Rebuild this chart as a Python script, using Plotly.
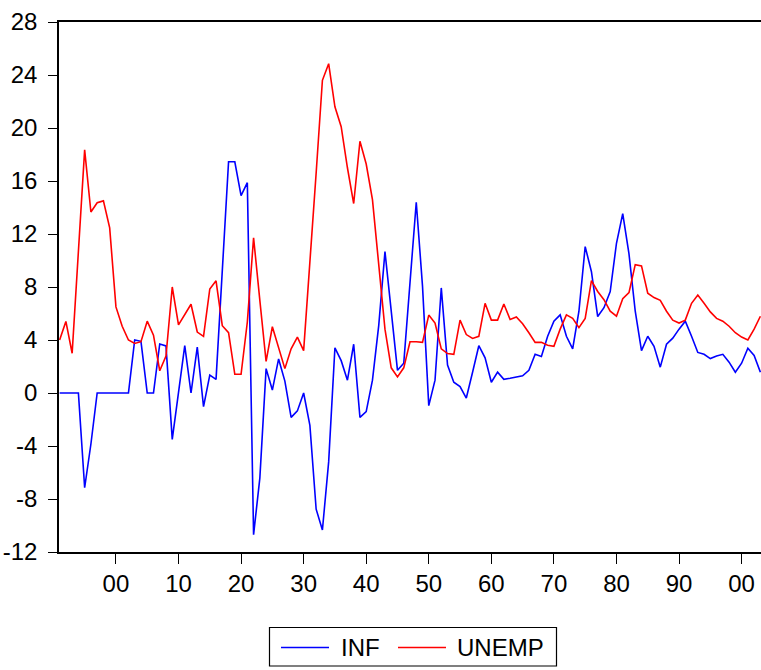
import plotly.graph_objects as go

years = list(range(1891, 2004))

inf = [
    0, 0, 0, 0, -7.15, -3.85, 0, 0, 0, 0,            # 1891-1900
    0, 0, 4.0, 3.9, 0, 0, 3.7, 3.55, -3.5, 0.05,     # 1901-1910
    3.57, 0, 3.47, -1.03, 1.35, 1.03, 9.2, 17.45, 17.45, 14.9,  # 1911-1920
    15.87, -10.7, -6.42, 1.84, 0.22, 2.57, 0.9, -1.84, -1.35, 0,  # 1921-1930
    -2.44, -8.77, -10.34, -5.2, 3.41, 2.44, 0.97, 3.68, -1.84, -1.41,  # 1931-1940
    0.97, 5.09, 10.67, 6.44, 1.71, 2.25, 8.6, 14.4, 8.07, -0.95,  # 1941-1950
    0.97, 7.93, 2.11, 0.81, 0.49, -0.38, 1.57, 3.57, 2.65, 0.81,  # 1951-1960
    1.57, 1.03, 1.11, 1.19, 1.3, 1.71, 2.92, 2.76, 4.28, 5.42,   # 1961-1970
    5.9, 4.28, 3.33, 6.17, 11.05, 9.15, 5.77, 6.44, 7.66, 11.3,  # 1971-1980
    13.54, 10.5, 6.17, 3.2, 4.28, 3.52, 1.95, 3.68, 4.14, 4.82,  # 1981-1990
    5.42, 4.28, 3.06, 2.92, 2.6, 2.79, 2.92, 2.33, 1.57, 2.25,   # 1991-2000
    3.38, 2.84, 1.57,                                            # 2001-2003
]

unemp = [
    4.0, 5.4, 3.0, 10.7, 18.35, 13.66, 14.36, 14.5, 12.46, 6.5,   # 1891-1900
    5.04, 4.0, 3.74, 3.87, 5.42, 4.36, 1.68, 2.79, 8.0, 5.14,     # 1901-1910
    5.96, 6.7, 4.6, 4.28, 7.85, 8.47, 5.08, 4.55, 1.41, 1.41,     # 1911-1920
    5.36, 11.72, 6.99, 2.38, 5.0, 3.33, 1.84, 3.33, 4.22, 3.2,    # 1921-1930
    9.69, 16.6, 23.6, 24.85, 21.6, 20.1, 17.0, 14.3, 19.0, 17.28, # 1931-1940
    14.6, 9.42, 4.82, 1.9, 1.22, 1.9, 3.87, 3.87, 3.82, 5.88,     # 1941-1950
    5.28, 3.33, 2.98, 2.92, 5.5, 4.41, 4.12, 4.28, 6.77, 5.5,     # 1951-1960
    5.5, 6.72, 5.55, 5.74, 5.23, 4.55, 3.82, 3.82, 3.6, 3.52,     # 1961-1970
    4.82, 5.9, 5.63, 4.93, 5.63, 8.48, 7.66, 7.04, 6.17, 5.8,     # 1971-1980
    7.12, 7.58, 9.69, 9.59, 7.53, 7.2, 6.99, 6.17, 5.5, 5.28,     # 1981-1990
    5.5, 6.77, 7.39, 6.77, 6.12, 5.63, 5.42, 5.04, 4.55, 4.22,    # 1991-2000
    4.0, 4.82, 5.79,                                              # 2001-2003
]

x_tick_vals = [1900, 1910, 1920, 1930, 1940, 1950, 1960, 1970, 1980, 1990, 2000]
x_tick_text = ["00", "10", "20", "30", "40", "50", "60", "70", "80", "90", "00"]
y_tick_vals = [-12, -8, -4, 0, 4, 8, 12, 16, 20, 24, 28]
y_tick_text = ["-12", "-8", "-4", "0", "4", "8", "12", "16", "20", "24", "28"]
series_names = ["INF", "UNEMP"]
series_colors = ["#0000FF", "#FF0000"]

W, H = 761, 670
ML, MR, MT, MB = 59, 0, 22, 118
PW, PH = W - ML - MR, H - MT - MB

def px_x(p):
    return (p - ML) / PW

def px_y(p):
    return (H - MB - p) / PH

FONT = "Liberation Sans, Arial, Helvetica, sans-serif"

fig = go.Figure()
for name, vals, col in zip(series_names, [inf, unemp], series_colors):
    fig.add_trace(go.Scatter(x=years, y=vals, mode="lines", name=name,
                             line=dict(color=col, width=1.6), showlegend=False))

fig.update_layout(
    width=W, height=H,
    margin=dict(l=ML, r=MR, t=MT, b=MB, pad=0),
    paper_bgcolor="white", plot_bgcolor="white",
    font=dict(family=FONT, size=24, color="black"),
    xaxis=dict(range=[1890.9, 2003.1], tickvals=x_tick_vals, ticktext=x_tick_text,
               showgrid=False, zeroline=False, showline=True, linecolor="black",
               linewidth=1.5, mirror=True, ticks="outside", ticklen=10, tickwidth=1,
               tickcolor="black", tickfont=dict(size=24), automargin=False,
               ticklabelstandoff=-1),
    yaxis=dict(range=[-12, 28], tickvals=y_tick_vals, ticktext=y_tick_text,
               showgrid=False, zeroline=False,
               showline=True, linecolor="black", linewidth=1.5, ticks="outside",
               ticklen=9, tickwidth=1, tickcolor="black", tickfont=dict(size=24),
               automargin=False, ticklabelstandoff=6),
    showlegend=False,
)

# legend box
lx0, lx1, ly0, ly1 = 269.5, 556.5, 627.5, 666
fig.add_shape(type="rect", xref="paper", yref="paper",
              x0=px_x(lx0), x1=px_x(lx1), y0=px_y(ly1), y1=px_y(ly0),
              line=dict(color="black", width=1.2), fillcolor="white")
legend_items = [(281, 329, 339), (398, 446, 455)]
for (a, b, t), name, col in zip(legend_items, series_names, series_colors):
    fig.add_shape(type="line", xref="paper", yref="paper",
                  x0=px_x(a), x1=px_x(b), y0=px_y(647.5), y1=px_y(647.5),
                  line=dict(color=col, width=1.6))
    fig.add_annotation(xref="paper", yref="paper", x=px_x(t), y=px_y(647.5),
                       text=name, showarrow=False, xanchor="left", yanchor="middle",
                       font=dict(size=24, family=FONT, color="black"))

fig.write_html("out.html")
